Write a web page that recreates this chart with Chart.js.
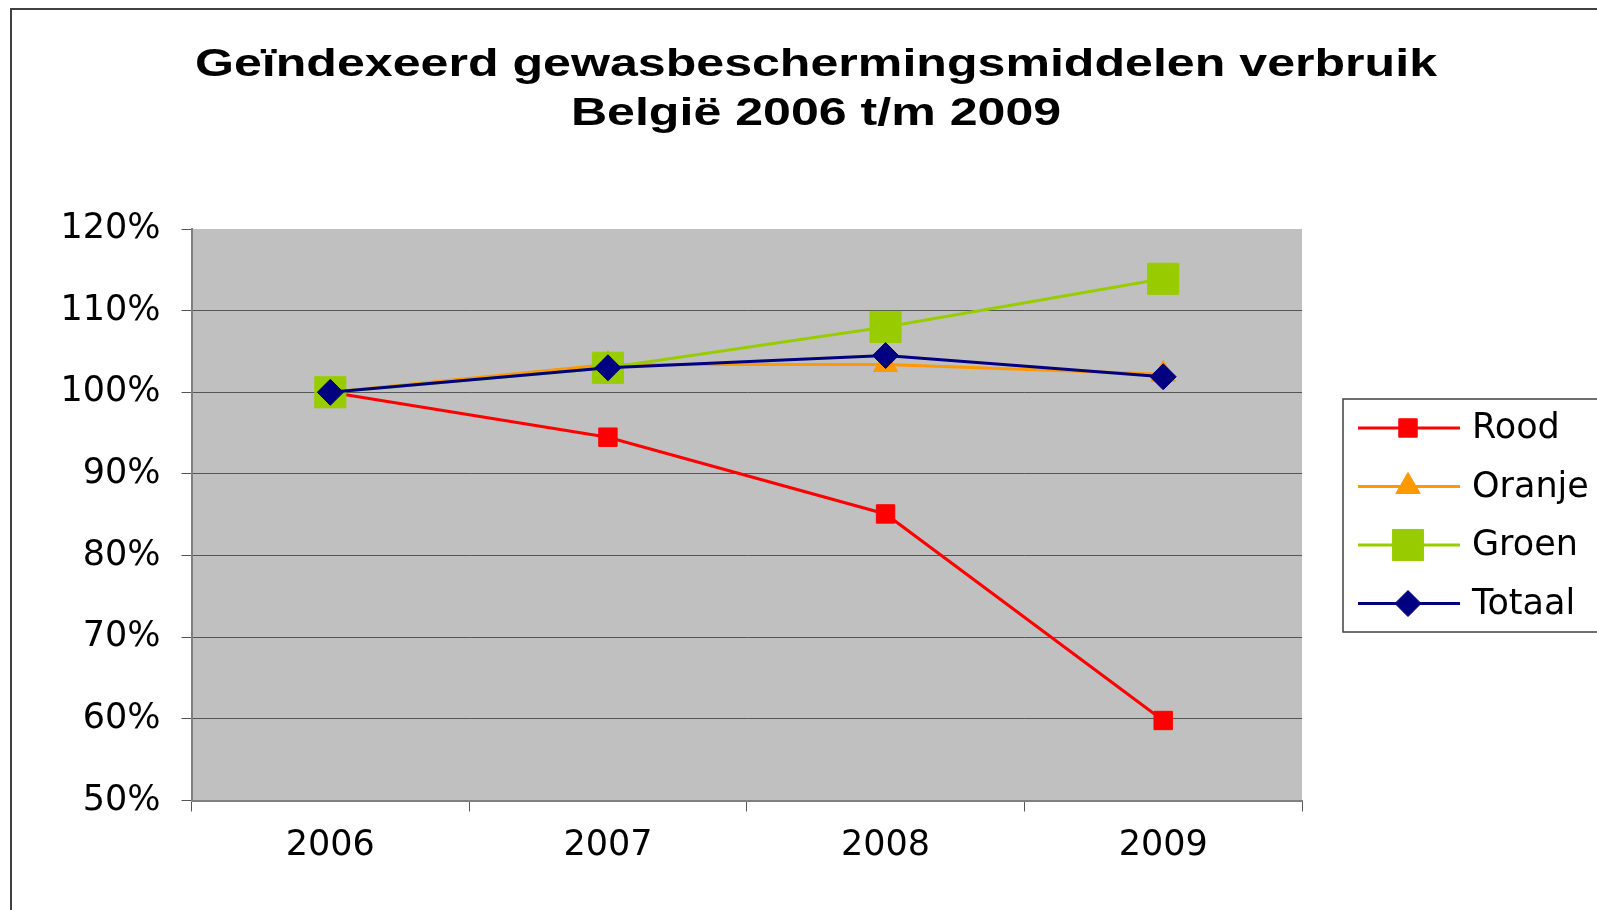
<!DOCTYPE html>
<html>
<head>
<meta charset="utf-8">
<title>Geïndexeerd gewasbeschermingsmiddelen verbruik</title>
<script src="https://cdn.jsdelivr.net/npm/chart.js@4.4.1/dist/chart.umd.min.js"></script>
<style>
  html, body { margin: 0; padding: 0; background: #fff; }
  #wrap { width: 1597px; height: 910px; }
</style>
</head>
<body>
<div id="wrap"><canvas id="chart" width="1597" height="910"></canvas></div>
<script>
// chart data (index values in %)
const years = ['2006', '2007', '2008', '2009'];
const rood = [100, 94.5, 85.1, 59.8];
const oranje = [100, 103.4, 103.4, 102.2];
const groen = [100, 103.0, 108.0, 113.9];
const totaal = [100, 103.0, 104.5, 101.9];
const titleLines = ['Geïndexeerd gewasbeschermingsmiddelen verbruik', 'België 2006 t/m 2009'];
const yMin = 50, yMax = 120, yStep = 10;

Chart.defaults.font.family = '"DejaVu Sans", sans-serif';
Chart.defaults.color = '#000';

function series(label, data, color, style, radius, order) {
  return {
    label: label,
    data: data,
    borderColor: color,
    backgroundColor: color,
    borderWidth: 3,
    pointStyle: style,
    pointRadius: radius,
    pointHoverRadius: radius,
    pointBackgroundColor: color,
    pointBorderColor: color,
    pointBorderWidth: 1,
    tension: 0,
    order: order
  };
}

// page frame, plot background, title and legend
const decor = {
  id: 'decor',
  beforeDraw(chart) {
    const ctx = chart.ctx;
    const a = chart.chartArea;
    ctx.save();
    ctx.fillStyle = '#fff';
    ctx.fillRect(0, 0, chart.width, chart.height);
    ctx.strokeStyle = '#404040';
    ctx.lineWidth = 2;
    ctx.strokeRect(11, 9, chart.width + 20, chart.height + 20);
    ctx.fillStyle = '#c0c0c0';
    ctx.fillRect(a.left, a.top, a.right - a.left, a.bottom - a.top);

    // title: Arial-like bold, stretched wide like the original
    ctx.fillStyle = '#000';
    ctx.font = 'bold 38px "Liberation Sans", Arial, sans-serif';
    ctx.textAlign = 'center';
    ctx.textBaseline = 'alphabetic';
    const sx = 1242 / ctx.measureText(titleLines[0]).width;
    ctx.translate(816, 0);
    ctx.scale(sx, 1);
    titleLines.forEach((line, i) => ctx.fillText(line, 0, 76 + i * 49));
    ctx.restore();
  },
  afterDraw(chart) {
    const ctx = chart.ctx;
    ctx.save();
    ctx.strokeStyle = '#404040';
    ctx.lineWidth = 1.5;
    ctx.strokeRect(1343, 399, 300, 233);
    ctx.font = '35px "DejaVu Sans", sans-serif';
    ctx.textBaseline = 'middle';
    ctx.textAlign = 'left';
    chart.data.datasets.forEach((ds, i) => {
      const y = 428 + i * 58.5;
      ctx.strokeStyle = ds.borderColor;
      ctx.lineWidth = 3;
      ctx.beginPath();
      ctx.moveTo(1358, y);
      ctx.lineTo(1460, y);
      ctx.stroke();
      ctx.fillStyle = ds.pointBackgroundColor;
      ctx.strokeStyle = ds.pointBorderColor;
      ctx.lineWidth = 1;
      Chart.helpers.drawPoint(ctx, {
        pointStyle: ds.pointStyle,
        radius: ds.pointRadius,
        rotation: 0,
        borderWidth: 1
      }, 1408, y);
      ctx.fillStyle = '#000';
      ctx.fillText(ds.label, 1472, y + 1);
    });
    ctx.restore();
  }
};

const chart = new Chart(document.getElementById('chart'), {
  type: 'line',
  data: {
    labels: years,
    datasets: [
      series('Rood', rood, '#ff0000', 'rect', 13, 3),
      series('Oranje', oranje, '#ff9900', 'triangle', 14, 2),
      series('Groen', groen, '#99cc00', 'rect', 22, 1),
      series('Totaal', totaal, '#000080', 'rectRot', 13, 0)
    ]
  },
  options: {
    responsive: false,
    animation: false,
    layout: { padding: { top: 229, right: 295, bottom: 0, left: 0 } },
    plugins: {
      legend: { display: false },
      title: { display: false },
      tooltip: { enabled: false }
    },
    scales: {
      x: {
        offset: true,
        afterFit(scale) { scale.height = 109.5; },
        grid: {
          offset: true,
          drawOnChartArea: false,
          drawTicks: true,
          tickLength: 11,
          color: '#555'
        },
        border: { color: '#7f7f7f', width: 2 },
        ticks: { font: { size: 35 }, padding: 13, maxRotation: 0 }
      },
      y: {
        min: yMin,
        max: yMax,
        afterFit(scale) { scale.width = 191.5; },
        grid: {
          color: ctx => ctx.tick && ctx.tick.value === yMax ? 'rgba(0,0,0,0)' : '#555',
          tickColor: '#555',
          tickLength: 10,
          lineWidth: 1
        },
        border: { color: '#7f7f7f', width: 2 },
        ticks: {
          stepSize: yStep,
          padding: 21,
          font: { size: 35 },
          callback: v => v + '%'
        }
      }
    }
  },
  plugins: [decor]
});
</script>
</body>
</html>
